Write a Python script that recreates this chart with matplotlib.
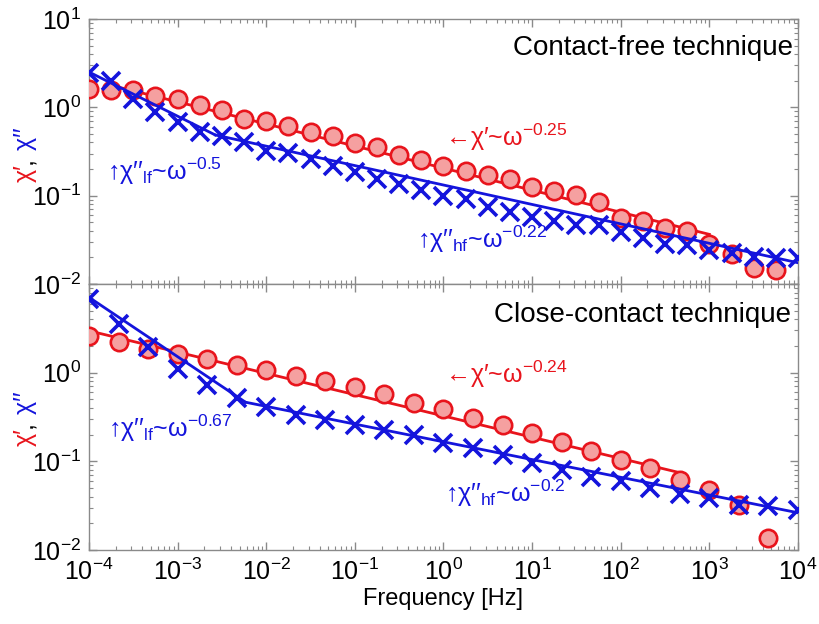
import numpy as np
import matplotlib
matplotlib.use("Agg")
import matplotlib.pyplot as plt
from matplotlib.ticker import LogLocator, NullFormatter, LogFormatterSciNotation

plt.rcParams["font.family"] = ["Liberation Sans", "DejaVu Sans"]
plt.rcParams["mathtext.fontset"] = "custom"
plt.rcParams["mathtext.rm"] = "Liberation Sans"
plt.rcParams["mathtext.it"] = "Liberation Sans:italic"
plt.rcParams["mathtext.bf"] = "Liberation Sans:bold"

RED = "#e8141c"
RED_FILL = "#f5a0a0"
BLUE = "#1414dc"
GREY = "#8a8a8a"

# contact-free: 4 points per decade
freq_cf_re = np.logspace(-4, 3.75, 32)
chi1_cf = [1.62, 1.59, 1.56, 1.36, 1.23, 1.05, 0.925, 0.746, 0.697, 0.617,
           0.527, 0.469, 0.394, 0.352, 0.289, 0.254, 0.219, 0.192, 0.172, 0.155,
           0.125, 0.112, 0.101, 0.0849, 0.0552, 0.0514, 0.0434, 0.0396, 0.0281,
           0.0217, 0.0151, 0.0145]
freq_cf_im = np.logspace(-4, 4, 33)
chi2_cf = [2.45, 1.98, 1.23, 0.885, 0.684, 0.527, 0.469, 0.401, 0.323, 0.302,
           0.261, 0.219, 0.187, 0.155, 0.136, 0.115, 0.0989, 0.0925, 0.0746,
           0.0656, 0.0577, 0.0514, 0.0463, 0.0463, 0.0391, 0.0329, 0.0281,
           0.0277, 0.0243, 0.0223, 0.0204, 0.0196, 0.0196]

# close-contact: 3 points per decade
freq_cc_re = np.logspace(-4, 11 / 3, 24)
chi1_cc = [2.62, 2.21, 1.86, 1.63, 1.41, 1.23, 1.06, 0.918, 0.798, 0.690,
           0.581, 0.460, 0.385, 0.310, 0.256, 0.207, 0.166, 0.131, 0.104,
           0.0849, 0.0617, 0.0476, 0.0323, 0.0136]
freq_cc_im = np.logspace(-4, 4, 25)
chi2_cc = [6.78, 3.56, 1.95, 1.11, 0.733, 0.519, 0.411, 0.332, 0.291, 0.256,
           0.225, 0.198, 0.162, 0.140, 0.118, 0.0951, 0.0800, 0.0673, 0.0601,
           0.0506, 0.0426, 0.0384, 0.0323, 0.0310, 0.0284]

# power-law fits: (exponent, reference freq, value at reference, f_min, f_max)
fit_re_cf = (-0.25, 1.0, 0.205, 1.78e-4, 1e3)
fit_re_cc = (-0.24, 1.0, 0.325, 1e-4, 460)
# chi'' fits: low-frequency and high-frequency branches
fit_lf_cf = (-0.5, 1e-4, 2.51)
fit_hf_cf = (-0.22, 1e4, 0.0174)
fit_lf_cc = (-0.67, 1e-4, 7.08)
fit_hf_cc = (-0.2, 1e4, 0.0263)


def power_law(f, n, f0, a):
    return a * (f / f0) ** n


def crossover(lf, hf):
    # frequency where the two branches meet
    n1, f1, a1 = lf
    n2, f2, a2 = hf
    lg = (np.log10(a2) - np.log10(a1) + n1 * np.log10(f1) - n2 * np.log10(f2)) / (n1 - n2)
    return 10 ** lg


fig = plt.figure(figsize=(8.2, 6.24), dpi=100)
W, H = 820, 624
ax1 = fig.add_axes([89 / W, 1 - 284 / H, 709 / W, 265 / H])
ax2 = fig.add_axes([89 / W, 1 - 550 / H, 709 / W, 266 / H], sharex=ax1)


def draw_panel(ax, f_re, chi1, f_im, chi2, fit_re, lf, hf):
    n, f0, a, fmin, fmax = fit_re
    ff = np.logspace(np.log10(fmin), np.log10(fmax), 50)
    ax.plot(ff, power_law(ff, n, f0, a), color=RED, lw=2.0, zorder=2)
    ax.plot(f_re, chi1, "o", ms=12.5, mfc=RED_FILL, mec=RED, mew=1.9, zorder=3)
    fc = crossover(lf, hf)
    f_lo = np.logspace(-4, np.log10(fc), 30)
    f_hi = np.logspace(np.log10(fc), 4, 60)
    ax.plot(f_lo, power_law(f_lo, *lf), color=BLUE, lw=2.0, zorder=4)
    ax.plot(f_hi, power_law(f_hi, *hf), color=BLUE, lw=2.0, zorder=4)
    ax.plot(f_im, chi2, "x", ms=13, mec=BLUE, mew=2.6, zorder=5)

    ax.set_xscale("log")
    ax.set_yscale("log")
    ax.set_xlim(1e-4, 1e4)
    ax.set_ylim(1e-2, 1e1)
    ax.xaxis.set_major_locator(LogLocator(base=10, numticks=20))
    ax.xaxis.set_minor_locator(LogLocator(base=10, subs=np.arange(2, 10), numticks=20))
    ax.yaxis.set_major_locator(LogLocator(base=10, numticks=20))
    ax.yaxis.set_minor_locator(LogLocator(base=10, subs=np.arange(2, 10), numticks=20))
    ax.xaxis.set_minor_formatter(NullFormatter())
    ax.yaxis.set_minor_formatter(NullFormatter())
    ax.tick_params(which="both", direction="in", top=True, right=True,
                   color=GREY, labelsize=18, pad=6)
    ax.tick_params(which="major", length=6, width=1)
    ax.tick_params(which="minor", length=3, width=0.8)
    for sp in ax.spines.values():
        sp.set_color(GREY)
        sp.set_linewidth(1.0)


draw_panel(ax1, freq_cf_re, chi1_cf, freq_cf_im, chi2_cf, fit_re_cf, fit_lf_cf, fit_hf_cf)
draw_panel(ax2, freq_cc_re, chi1_cc, freq_cc_im, chi2_cc, fit_re_cc, fit_lf_cc, fit_hf_cc)

ax1.tick_params(labelbottom=False)

# lower panel: leave the top decade unlabelled, the upper panel's 10^-2 sits there
sci = LogFormatterSciNotation()


def lower_ylabels(v, pos):
    return "" if v > 5 else sci(v, pos)


ax2.yaxis.set_major_formatter(lower_ylabels)

ax2.set_xlabel("Frequency [Hz]", fontsize=17, labelpad=2)

ax1.text(0.993, 0.864, "Contact-free technique", transform=ax1.transAxes,
         ha="right", va="baseline", fontsize=20)
ax2.text(0.990, 0.858, "Close-contact technique", transform=ax2.transAxes,
         ha="right", va="baseline", fontsize=20)

ann = dict(va="baseline", fontsize=18)
ax1.text(0.502, 0.521, "←χ′~ω$^{-0.25}$", color=RED, transform=ax1.transAxes, **ann)
ax1.text(0.025, 0.392, "↑χ′′$_{\\rm lf}$~ω$^{-0.5}$", color=BLUE, transform=ax1.transAxes, **ann)
ax1.text(0.463, 0.136, "↑χ′′$_{\\rm hf}$~ω$^{-0.22}$", color=BLUE, transform=ax1.transAxes, **ann)
ax2.text(0.502, 0.628, "←χ′~ω$^{-0.24}$", color=RED, transform=ax2.transAxes, **ann)
ax2.text(0.027, 0.425, "↑χ′′$_{\\rm lf}$~ω$^{-0.67}$", color=BLUE, transform=ax2.transAxes, **ann)
ax2.text(0.502, 0.180, "↑χ′′$_{\\rm hf}$~ω$^{-0.2}$", color=BLUE, transform=ax2.transAxes, **ann)


def colored_ylabel(xc, yc, parts, size=18):
    # stack rotated pieces bottom-to-top, then centre the whole label
    renderer = fig.canvas.get_renderer()
    texts = []
    y = 0.0
    for s, c in parts:
        t = fig.text(xc / W, 0, s, color=c, rotation=90, fontsize=size,
                     ha="center", va="bottom")
        h = t.get_window_extent(renderer).height
        texts.append((t, y))
        y += h
    start = (H - yc) - y / 2
    for t, off in texts:
        t.set_y((start + off) / H)


label_parts = [("χ′", RED), (",", "black"), (" χ′′", BLUE)]
colored_ylabel(25, 155, label_parts)
colored_ylabel(25, 419, label_parts)

fig.savefig("out.png", dpi=100)
